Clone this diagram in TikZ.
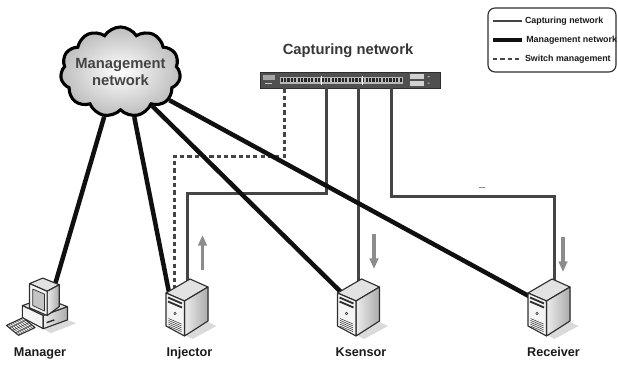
\documentclass[tikz,border=0pt]{standalone}
\usepackage{fontspec}
\setmainfont{Liberation Sans}
\usetikzlibrary{shapes.symbols,arrows.meta}
\definecolor{ink}{HTML}{1A1A1A}
\definecolor{mgmtcol}{HTML}{101010}
\definecolor{capcol}{HTML}{454545}
\definecolor{flowgray}{HTML}{8C8C8C}
\definecolor{devedge}{HTML}{2E2E2E}
\definecolor{topgray}{HTML}{E2E2E2}
\definecolor{frontgray}{HTML}{F4F4F4}
\definecolor{sidelight}{HTML}{ECECEC}
\definecolor{sidegray}{HTML}{ABABAB}
\definecolor{screengray}{HTML}{C4C4C4}
\definecolor{shadowgray}{HTML}{DADADA}
\definecolor{cloudgray}{HTML}{BDBDBD}
\definecolor{cloudtext}{HTML}{444444}
\definecolor{swbody}{HTML}{505050}
\tikzset{
  mgmtline/.style={draw=mgmtcol, line width=3.2pt},
  capline/.style={draw=capcol, line width=1.8pt},
  swline/.style={draw=capcol, line width=1.7pt, dash pattern=on 3pt off 2.2pt},
  flow/.style={draw=flowgray, line width=2.3pt, -{Triangle[width=6pt,length=7.5pt]}},
  devline/.style={draw=devedge, line width=0.8pt, line join=round},
  bay/.style={draw=devedge, line width=1.3pt},
  devbox/.style={rectangle, minimum width=1.2cm, minimum height=1.55cm, inner sep=0pt},
  switchbox/.style={rectangle, draw=devedge, fill=swbody, line width=0.6pt,
    minimum width=4.5cm, minimum height=0.4cm, inner sep=0pt},
  keybox/.style={rectangle, draw=devedge, fill=white, line width=0.8pt, rounded corners=5pt,
    minimum width=3.2cm, minimum height=1.6cm},
  lbl/.style={text=ink, font=\fontsize{9}{10}\selectfont\bfseries, anchor=base},
  keytext/.style={text=ink, font=\fontsize{6.3}{7}\selectfont\bfseries, anchor=west, inner sep=1.5pt},
  % tower server, drawn round its centre
  server/.pic={
    \fill[shadowgray] (-3,27) -- (20.5,14) -- (29,18) -- (5,31) -- cycle;
    \filldraw[devline, fill=topgray] (-21.5,-15) -- (2.5,-29) -- (20.5,-21) -- (-3,-7) -- cycle;
    \filldraw[devline, left color=sidelight, right color=sidegray] (-3,-7) -- (20.5,-21) -- (20.5,13) -- (-3,28) -- cycle;
    \filldraw[devline, fill=frontgray] (-21.5,-15) -- (-3,-7) -- (-3,28) -- (-21.5,18) -- cycle;
    \draw[bay] (-19.5,-10.5) -- (-5.5,-4.5);
    \draw[bay] (-19.5,-6.5) -- (-5.5,-0.5);
    \draw[devline, line width=0.4pt] (-12.5,5.5) circle (1.3);
    \foreach \v in {0,...,4}
      \draw[devline, line width=0.35pt] (-19,{10.5+1.9*\v}) -- (-6,{16+1.9*\v});
  },
  % desktop with monitor and keyboard
  computer/.pic={
    \fill[shadowgray] (3,17) -- (25,9) -- (33,12) -- (10,21) -- cycle;
    \filldraw[devline, fill=topgray] (-16,-4) -- (4,-11) -- (25,-3) -- (3,5) -- cycle;
    \filldraw[devline, fill=frontgray] (-16,-4) -- (3,5) -- (3,17) -- (-16,7) -- cycle;
    \filldraw[devline, left color=sidelight, right color=sidegray] (3,5) -- (25,-3) -- (25,9) -- (3,17) -- cycle;
    \draw[bay, line width=1pt] (6,11.5) -- (13,9);
    % monitor
    \filldraw[devline, fill=topgray] (-9.5,-24) -- (2.5,-29) -- (17.5,-23) -- (6.5,-17) -- cycle;
    \filldraw[devline, left color=sidelight, right color=sidegray] (6.5,-17) -- (17.5,-23) -- (17.5,-3) -- (6.5,5) -- cycle;
    \filldraw[devline, fill=frontgray] (-9.5,-24) -- (6.5,-17) -- (6.5,5) -- (-9.5,-2) -- cycle;
    \filldraw[devline, line width=0.5pt, fill=screengray] (-6.5,-19) -- (4,-14.5) -- (4,1) -- (-6.5,-4) -- cycle;
    % keyboard
    \filldraw[devline, fill=frontgray] (-30.5,14) -- (-15.5,7) -- (-4.5,16) -- (-19.5,23) -- cycle;
    \foreach \r in {0.25,0.5,0.75}
      \draw[devline, line width=0.3pt] ({-30.5+11*\r},{14+9*\r}) -- ({-15.5+11*\r},{7+9*\r});
    \foreach \c in {0.125,0.25,...,0.9}
      \draw[devline, line width=0.3pt] ({-30.5+15*\c},{14-7*\c}) -- ({-19.5+15*\c},{23-7*\c});
  }
}

\begin{document}
\begin{tikzpicture}[x=0.025cm, y=-0.025cm]
  \useasboundingbox (0,0) rectangle (618,365);

  % networks
  \node[cloud, cloud puffs=11, cloud puff arc=115, cloud ignores aspect,
        draw=black, line width=2.2pt, inner color=white, outer color=cloudgray,
        minimum width=3cm, minimum height=2.25cm, inner sep=0pt, align=center, text=cloudtext,
        font=\fontsize{10.5}{12}\selectfont\bfseries] (mgmt) at (120.5,72)
        {\makebox[0pt]{Management}\\\makebox[0pt]{network}};
  \node[switchbox] (sw) at (350,80) {};
  \node[text=capcol!80!black, font=\fontsize{10.5}{12}\selectfont\bfseries, anchor=base]
    (captitle) at (348,54.5) {Capturing network};

  % switch front panel
  \begin{scope}[shift={(sw.north west)}]
    \fill[gray!70] (3,3) rectangle (15,8);
    \fill[gray!45] (5,11) rectangle (12,12.5);
    \fill[gray!55] (20,5) rectangle (143,12);
    \foreach \i in {0,...,35}
      \fill[black!85] ({21+\i*3.4},6.5) rectangle ++(2.3,4);
    \draw[white, line width=0.4pt] (62,4) -- (62,13) (103,4) -- (103,13);
    \fill[gray!35] (150,2.5) rectangle (164,7.5);
    \fill[gray!35] (150,9) rectangle (164,14);
    \fill[gray!60] (168,4.5) rectangle ++(2,1) (168,11) rectangle ++(2,1);
  \end{scope}

  % devices
  \node[devbox] (mgr) at (40,310) {};
  \node[devbox] (inj) at (187.5,308) {};
  \node[devbox] (ksen) at (359,308) {};
  \node[devbox] (recv) at (549.5,308) {};

  % capturing links and switch management
  \draw[swline] ([shift={(25,0)}]sw.south west) -- ++(0,68) -| ([shift={(-13,0)}]inj.center);
  \draw[capline] ([shift={(67,0)}]sw.south west) -- ++(0,105) -| (inj.center);
  \draw[capline] ([shift={(99,0)}]sw.south west) |- (ksen.center);
  \draw[capline] ([shift={(132,0)}]sw.south west) -- ++(0,108) -| ([shift={(5,0)}]recv.center);

  % management links
  \draw[mgmtline] (mgmt.250) -- ([shift={(14,-22)}]mgr.center);
  \draw[mgmtline] (mgmt.287) -- ([shift={(-17,-8)}]inj.center);
  \draw[mgmtline] (mgmt.313) -- ([shift={(-10,-8)}]ksen.center);
  \draw[mgmtline] (mgmt.330) -- ([shift={(-8,-5)}]recv.center);

  \pic[scale=1.1] at (mgr) {computer};
  \pic at (inj) {server};
  \pic at (ksen) {server};
  \pic at (recv) {server};

  % traffic direction
  \draw[flow] ([shift={(15,-38)}]inj.center) -- ++(0,-35);
  \draw[flow] ([shift={(15,-74)}]ksen.center) -- ++(0,35);
  \draw[flow] ([shift={(13.5,-71)}]recv.center) -- ++(0,35);
  \draw[flowgray, line width=0.5pt] (479,187) -- (485,187);

  \node[lbl] (mgr-lbl) at (40,357) {Manager};
  \node[lbl] (inj-lbl) at (189.5,357) {Injector};
  \node[lbl] (ksen-lbl) at (361,357) {Ksensor};
  \node[lbl] (recv-lbl) at (553.5,357) {Receiver};

  % legend
  \node[keybox] (key) at (552,40) {};
  \draw[capline, line width=1.3pt] (493,21) -- (522,21) node[keytext] {Capturing network};
  \draw[mgmtline] (493,40) -- (522,40) node[keytext] {Management network};
  \draw[swline, line width=1.3pt] (493,59) -- (522,59) node[keytext] {Switch management};
\end{tikzpicture}
\end{document}
